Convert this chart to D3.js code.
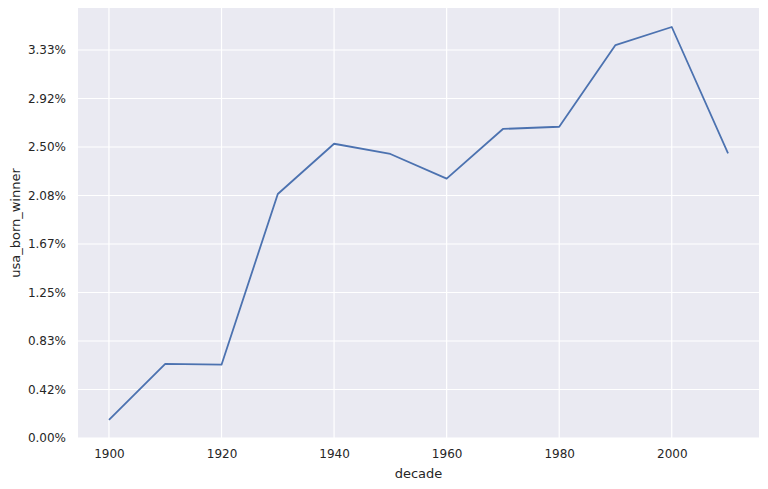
<!DOCTYPE html>
<html><head><meta charset="utf-8">
<script src="https://cdn.jsdelivr.net/npm/d3@7"></script>
<style>body{margin:0;background:#fff;} text{font-family:"DejaVu Sans",sans-serif;fill:#262626;}</style>
</head><body><svg id="c" width="768" height="489"></svg>
<script>
const decades = [1900,1910,1920,1930,1940,1950,1960,1970,1980,1990,2000,2010];
const usaBornWinner = [0.155,0.636,0.630,2.096,2.528,2.440,2.228,2.655,2.674,3.376,3.531,2.446];
const xTicks = [1900,1920,1940,1960,1980,2000];
const yTicks = [0,5/12,10/12,15/12,20/12,25/12,30/12,35/12,40/12];
const yTickLabels = ["0.00%","0.42%","0.83%","1.25%","1.67%","2.08%","2.50%","2.92%","3.33%"];

const svg = d3.select("#c");
const L=78,R=759,T=8,B=438;
const x = d3.scaleLinear().domain([1894.5,2015.5]).range([L,R]);
const y = d3.scaleLinear().domain([0,(B-T)/116.4]).range([B,T]);

svg.append("rect").attr("x",L).attr("y",T).attr("width",R-L).attr("height",B-T).attr("fill","#EAEAF2");
const g = svg.append("g");
g.selectAll(".vg").data(xTicks).join("line").attr("x1",d=>x(d)).attr("x2",d=>x(d)).attr("y1",T).attr("y2",B).attr("stroke","#fff").attr("stroke-width",1.2);
g.selectAll(".hg").data(yTicks).join("line").attr("x1",L).attr("x2",R).attr("y1",d=>y(d)).attr("y2",d=>y(d)).attr("stroke","#fff").attr("stroke-width",1.2);

const xAxis = svg.append("g").attr("transform",`translate(0,${B})`).call(d3.axisBottom(x).tickValues(xTicks).tickFormat(d3.format("d")).tickSize(0).tickPadding(11));
const yAxis = svg.append("g").attr("transform",`translate(${L},0)`).call(d3.axisLeft(y).tickValues(yTicks).tickFormat((d,i)=>yTickLabels[i]).tickSize(0).tickPadding(12));
[xAxis,yAxis].forEach(a=>{a.select(".domain").remove(); a.selectAll("text").attr("font-size",12).style("font-family","DejaVu Sans").attr("fill","#333");});

svg.append("path").datum(decades.map((d,i)=>[d,usaBornWinner[i]]))
 .attr("d",d3.line().x(d=>x(d[0])).y(d=>y(d[1])))
 .attr("fill","none").attr("stroke","#4C72B0").attr("stroke-width",1.8).attr("stroke-linejoin","round");

svg.append("text").attr("x",(L+R)/2).attr("y",478).attr("text-anchor","middle").attr("font-size",13).text("decade");
svg.append("text").attr("transform",`translate(20,${(T+B)/2}) rotate(-90)`).attr("text-anchor","middle").attr("font-size",13).text("usa_born_winner");
</script></body></html>
